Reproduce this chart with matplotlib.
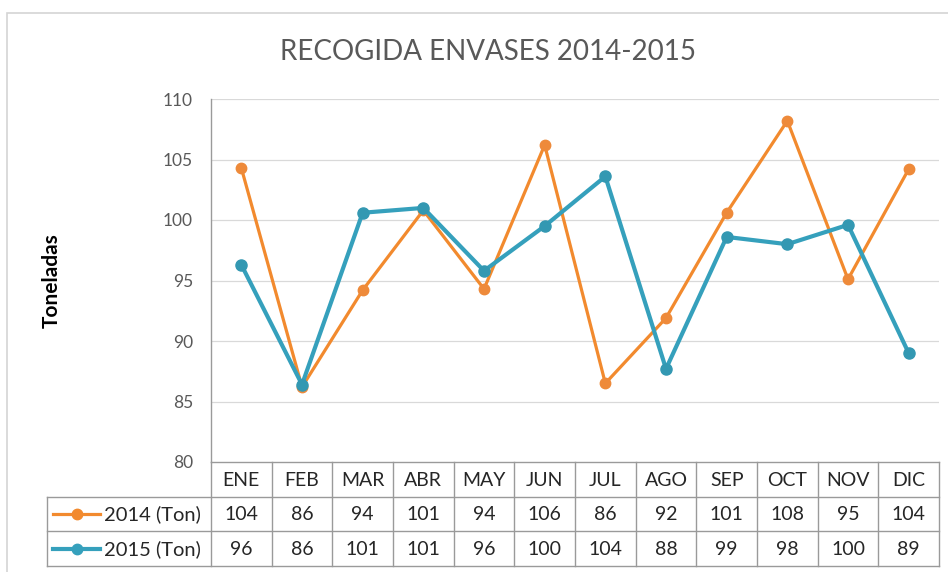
import matplotlib
matplotlib.use("Agg")
import matplotlib.pyplot as plt
from matplotlib.patches import Rectangle
from matplotlib.lines import Line2D

# ---- data ----
months = ["ENE", "FEB", "MAR", "ABR", "MAY", "JUN", "JUL", "AGO", "SEP", "OCT", "NOV", "DIC"]
series_names = ["2014 (Ton)", "2015 (Ton)"]
values_2014 = [104.3, 86.2, 94.2, 100.8, 94.3, 106.2, 86.5, 91.9, 100.6, 108.2, 95.1, 104.2]
values_2015 = [96.3, 86.4, 100.6, 101.0, 95.8, 99.5, 103.6, 87.7, 98.6, 98.0, 99.6, 89.0]
table_2014 = ["104", "86", "94", "101", "94", "106", "86", "92", "101", "108", "95", "104"]
table_2015 = ["96", "86", "101", "101", "96", "100", "104", "88", "99", "98", "100", "89"]
yticks = [80, 85, 90, 95, 100, 105, 110]
title = "RECOGIDA ENVASES 2014-2015"
ylabel = "Toneladas"

C2014 = "#F28A2E"
C2015 = "#35A0BC"
LINEC = "#9a9a9a"
GRIDC = "#d9d9d9"
TXT = "#262626"
TICKC = "#595959"
FONT = "Lato"

W, H = 948, 572
fig = plt.figure(figsize=(W / 100, H / 100), dpi=100)
fig.patch.set_facecolor("white")

def fx(px):
    return px / W

def fy(py):
    return 1 - py / H

# outer chart frame
fig.patches.append(Rectangle((fx(7), fy(H + 10)), fx(W + 20), (H + 10 - 13) / H,
                             transform=fig.transFigure, fill=False,
                             edgecolor="#d4d4d4", lw=1.2))

L, R, T, B = 211, 939, 99, 462
ax = fig.add_axes([fx(L), fy(B), (R - L) / W, (B - T) / H])
ax.set_xlim(-0.5, len(months) - 0.5)
ax.set_ylim(80, 110)
ax.set_yticks(yticks)
ax.set_yticklabels([str(v) for v in yticks], fontsize=12.5, color=TICKC, family=FONT)
ax.tick_params(axis="y", length=0, pad=13)
ax.set_xticks([])
for s in ["top", "right", "bottom"]:
    ax.spines[s].set_visible(False)
ax.spines["left"].set_color(LINEC)
ax.spines["left"].set_linewidth(1)
for v in yticks[1:]:
    ax.axhline(v, color=GRIDC, lw=0.9, zorder=0)

x = list(range(len(months)))
ax.plot(x, values_2014, color=C2014, lw=2.3, marker="o", ms=7.5, zorder=3,
        markerfacecolor="#EE8A3A", markeredgecolor="#EE8A3A")
ax.plot(x, values_2015, color=C2015, lw=3.0, marker="o", ms=8, zorder=4,
        markerfacecolor="#3398B2", markeredgecolor="#3398B2")

fig.text(fx(488), fy(52), title, ha="center", va="center", fontsize=20,
         color="#595959", family=FONT)
fig.text(fx(52), fy(281), ylabel, ha="center", va="center", rotation=90,
         fontsize=15, fontweight="bold", color="black", family=FONT)

# ---- data table ----
tb = fig.add_axes([fx(L), fy(566), (R - L) / W, (566 - B) / H])
tb.set_xlim(-0.5, len(months) - 0.5)
tb.set_ylim(3, 0)
tb.axis("off")
colw = (R - L) / len(months)
left_edge = -0.5 - (L - 47) / colw

def px2d(px):
    return (px - L) / colw - 0.5

lk = dict(color=LINEC, lw=1, clip_on=False, zorder=2)
tb.plot([-0.5, len(months) - 0.5], [0, 0], **lk)
for r in [1, 2, 3]:
    tb.plot([left_edge, len(months) - 0.5], [r, r], **lk)
for i in range(len(months) + 1):
    tb.plot([i - 0.5, i - 0.5], [0, 3], **lk)
tb.plot([left_edge, left_edge], [1, 3], **lk)

for i, m in enumerate(months):
    tb.text(i, 0.52, m, ha="center", va="center", fontsize=14, color=TXT, family=FONT)
    tb.text(i, 1.52, table_2014[i], ha="center", va="center", fontsize=14, color=TXT, family=FONT)
    tb.text(i, 2.52, table_2015[i], ha="center", va="center", fontsize=14, color=TXT, family=FONT)

for r, (name, col, lw) in enumerate(zip(series_names, [C2014, C2015], [2.3, 3.0])):
    yy = r + 1.5
    tb.add_line(Line2D([px2d(53), px2d(100)], [yy, yy], color=col, lw=lw, clip_on=False))
    tb.add_line(Line2D([px2d(77)], [yy], color=col, marker="o", ms=7.5, clip_on=False))
    tb.text(px2d(104), yy + 0.02, name, ha="left", va="center", fontsize=14.5,
            color=TXT, family=FONT)

fig.savefig("out.png", dpi=100)
